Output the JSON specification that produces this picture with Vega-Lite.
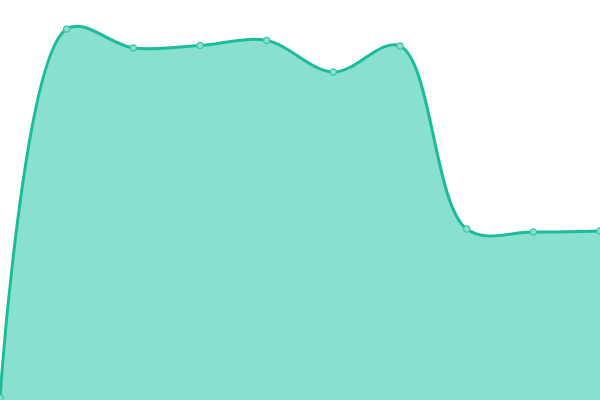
{
  "$schema": "https://vega.github.io/schema/vega-lite/v6.json",
  "width": 600,
  "height": 400,
  "autosize": {"type": "fit", "contains": "padding"},
  "padding": 0,
  "background": "white",
  "config": {"view": {"stroke": null}},
  "data": {
    "values": [
      {"i": 0, "v": 2},
      {"i": 1, "v": 371},
      {"i": 2, "v": 352},
      {"i": 3, "v": 354.5},
      {"i": 4, "v": 359.5},
      {"i": 5, "v": 328},
      {"i": 6, "v": 354},
      {"i": 7, "v": 171},
      {"i": 8, "v": 168},
      {"i": 9, "v": 169}
    ]
  },
  "encoding": {
    "x": {"field": "i", "type": "quantitative", "axis": null, "scale": {"domain": [0, 9], "nice": false, "zero": false}},
    "y": {"field": "v", "type": "quantitative", "axis": null, "scale": {"domain": [0, 400], "nice": false}}
  },
  "layer": [
    {
      "mark": {"type": "area", "interpolate": "catmull-rom", "color": "#89e0cf", "opacity": 1, "clip": true}
    },
    {
      "mark": {"type": "line", "interpolate": "catmull-rom", "color": "#1abc9c", "strokeWidth": 3, "clip": true}
    },
    {
      "mark": {"type": "point", "filled": false, "fill": "#8ae0cf", "fillOpacity": 1, "stroke": "#3cc7a9", "strokeWidth": 1.2, "size": 40, "opacity": 1, "clip": true}
    }
  ]
}
